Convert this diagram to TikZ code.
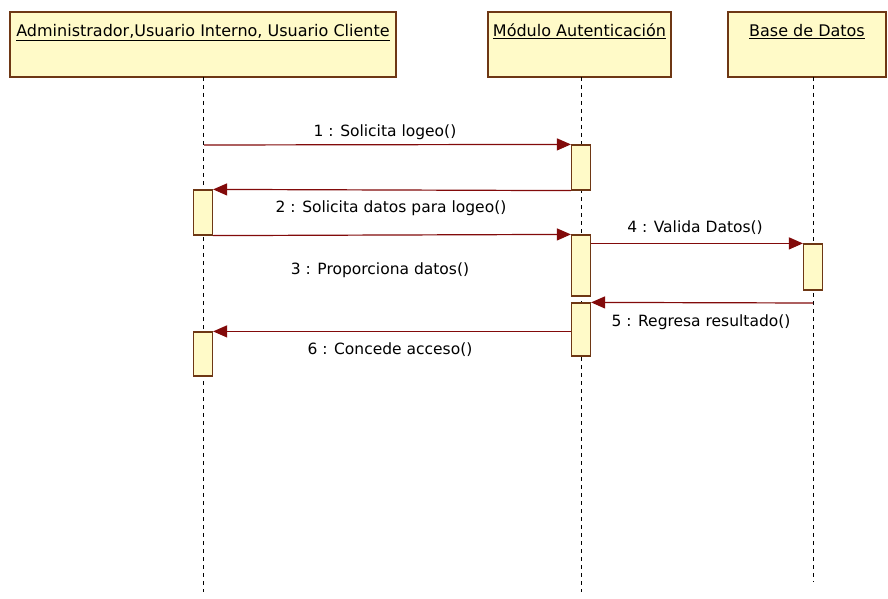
\documentclass[tikz,border=0pt]{standalone}
\usepackage{fontspec}
\setmainfont{DejaVu Sans}
\usetikzlibrary{arrows.meta,calc}
\definecolor{boxfill}{RGB}{255,250,200}
\definecolor{boxdraw}{RGB}{110,55,20}
\definecolor{msg}{RGB}{130,10,10}
\tikzset{
  x=1pt, y=-1pt,
  header/.style={draw=boxdraw, fill=boxfill, line width=1.2pt, rectangle, inner xsep=0pt, inner ysep=0pt,
     text height=25pt, text depth=40pt, font=\fontsize{16}{19}\selectfont},
  act/.style={draw=boxdraw, fill=boxfill, line width=1.2pt, rectangle, minimum width=19pt, inner sep=0pt},
  life/.style={line width=1pt, dash pattern=on 4pt off 4pt, black},
  message/.style={draw=msg, line width=1.2pt, -{Triangle[length=14pt,width=12pt]}, color=msg},
  lbl/.style={font=\fontsize{15.5}{18}\selectfont, inner sep=0pt}
}
\begin{document}
\begin{tikzpicture}
\useasboundingbox (0,0) rectangle (888,599);
\fill[white] (0,0) rectangle (888,599);
% headers
\node[header, minimum width=386pt] (h1) at (203,44.5) {\underline{Administrador,Usuario Interno, Usuario Cliente}};
\node[header, minimum width=183pt] (h2) at (579.5,44.5) {\underline{Módulo Autenticación}};
\node[header, minimum width=158pt] (h3) at (807,44.5) {\underline{Base de Datos}};
% lifeline ends
\coordinate (e1) at (203,592);
\coordinate (e2) at (581,592);
\coordinate (e3) at (813,582);
\draw[life] (203,77) -- (e1);
\draw[life] (581,77) -- (e2);
\draw[life] (813,77) -- (e3);
% activations
\node[act, minimum height=45pt] (a1) at (581,167.5) {};
\node[act, minimum height=61pt] (a2) at (581,265.5) {};
\node[act, minimum height=53pt] (a3) at (581,329.5) {};
\node[act, minimum height=45pt] (b1) at (203,212.5) {};
\node[act, minimum height=44pt] (b2) at (203,354) {};
\node[act, minimum height=46pt] (d1) at (813,267) {};
% message start points
\coordinate (s1) at (204,145);
\coordinate (s5) at (813,303);
% messages
\draw[message] (s1) -- (a1.north west);
\draw[message] (a1.south west) -- (b1.north east);
\draw[message] (b1.south east) -- (a2.north west);
\draw[message] (d1.north west -| a2.east) -- (d1.north west);
\draw[message] (s5) -- (a3.north east);
\draw[message] (b2.north east -| a3.west) -- (b2.north east);
% labels
\node[lbl] (m1) at (385,132) {1 : Solicita logeo()};
\node[lbl] (m2) at (391,208) {2 : Solicita datos para logeo()};
\node[lbl] (m3) at (380,270) {3 : Proporciona datos()};
\node[lbl] (m4) at (695,228) {4 : Valida Datos()};
\node[lbl] (m5) at (701,322) {5 : Regresa resultado()};
\node[lbl] (m6) at (390,350) {6 : Concede acceso()};
\end{tikzpicture}
\end{document}
